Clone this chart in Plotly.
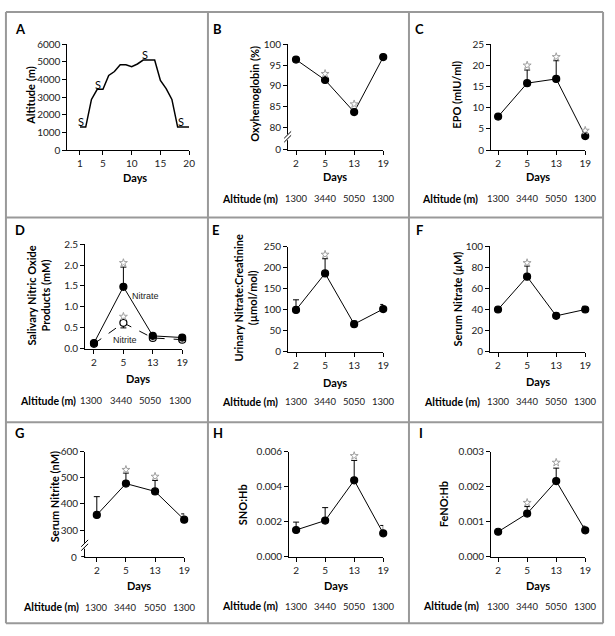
import plotly.graph_objects as go

W, H = 615, 636
FONT = "Lato"

days = ["2", "5", "13", "19"]
altitude_row = ["1300", "3440", "5050", "1300"]

# A: trek altitude profile
trek_day = list(range(1, 21))
trek_alt = [1300, 1300, 2870, 3440, 3440, 4230, 4450, 4830, 4830, 4730,
            4880, 5100, 5100, 5100, 3950, 3480, 2870, 1300, 1300, 1300]
sample_day = [1.2, 4.2, 12.4, 18.5]
sample_alt = [1620, 3730, 5390, 1620]

# B-I: mean values, upper error, asterisk heights (None = no asterisk)
oxyhb = [96.3, 91.4, 83.7, 96.9]
oxyhb_star = [None, 92.9, 85.6, None]

epo = [7.9, 15.8, 16.8, 3.3]
epo_err = [0.3, 3.1, 4.3, 0.5]
epo_star = [None, 20.0, 22.0, 4.6]

sal_nitrate = [0.14, 1.48, 0.31, 0.27]
sal_nitrate_err = [0.03, 0.47, 0.05, 0.06]
sal_nitrate_star = [None, 2.05, None, None]
sal_nitrite = [0.12, 0.62, 0.26, 0.22]
sal_nitrite_err = [0.02, 0.12, 0.06, 0.05]
sal_nitrite_star = [None, 0.77, None, None]

urine = [100, 187, 66, 102]
urine_err = [24, 35, 7, 11]
urine_star = [None, 232, None, None]

s_nitrate = [40, 71, 34, 40]
s_nitrate_err = [2, 10, 2.5, 3]
s_nitrate_star = [None, 84, None, None]

s_nitrite = [358, 478, 448, 340]
s_nitrite_err = [70, 40, 42, 22]
s_nitrite_star = [None, 531, 505, None]

sno = [0.00152, 0.00206, 0.00436, 0.00133]
sno_err = [0.00045, 0.00074, 0.00114, 0.00045]
sno_star = [None, None, 0.00576, None]

feno = [0.00071, 0.00123, 0.00216, 0.00075]
feno_err = [0.00003, 0.0002, 0.00037, 0.00012]
feno_star = [None, 0.00154, 0.00269, None]

idx = list(range(len(days)))


def px(p):
    return p / W


def py(p):
    return 1 - p / H


fig = go.Figure()
annotations = []
shapes = []

# panel geometry in pixels: left, right, top, bottom of plot area; letter position
panels = {
    "A": dict(n=1, l=68, r=191, t=38, b=146, lx=21, ly=22),
    "B": dict(n=2, l=291, r=387, t=38, b=146, lx=220, ly=22, x0=-0.27),
    "C": dict(n=3, l=496, r=591, t=38, b=146, lx=424, ly=22, x0=-0.24),
    "D": dict(n=4, l=86, r=184, t=242, b=349, lx=20, ly=228, x0=-0.30),
    "E": dict(n=5, l=291, r=387, t=245, b=352, lx=218, ly=228, x0=-0.27),
    "F": dict(n=6, l=495, r=591, t=244, b=352, lx=424, ly=228, x0=-0.27),
    "G": dict(n=7, l=86, r=186, t=454, b=561, lx=20, ly=435, x0=-0.40),
    "H": dict(n=8, l=292, r=387, t=454, b=561, lx=220, ly=435, x0=-0.24),
    "I": dict(n=9, l=496, r=591, t=454, b=561, lx=425, ly=435, x0=-0.24),
}

axis_style = dict(showline=True, linecolor="black", linewidth=1, ticks="outside",
                  ticklen=4, tickwidth=1, tickcolor="black", showgrid=False,
                  zeroline=False, tickfont=dict(family=FONT, size=10, color="#222"))


def ax_names(n):
    s = "" if n == 1 else str(n)
    return "x" + s, "y" + s, "xaxis" + s, "yaxis" + s


def note(x, y, text, size=11, color="black", xref="paper", yref="paper", **kw):
    d = dict(x=x, y=y, xref=xref, yref=yref, text=text, showarrow=False,
             xanchor="center", yanchor="middle",
             font=dict(family=kw.pop("family", FONT), size=size, color=color))
    d.update(kw)
    annotations.append(d)


def setup_axes(key, yaxis_extra, xaxis_extra=None):
    p = panels[key]
    xr, yr, xk, yk = ax_names(p["n"])
    xa = dict(axis_style, domain=[px(p["l"]), px(p["r"])], anchor=yr)
    if xaxis_extra is None:
        xa.update(range=[p["x0"], len(days) - 1], tickvals=idx, ticktext=days)
    else:
        xa.update(xaxis_extra)
    ya = dict(axis_style, domain=[py(p["b"]), py(p["t"])], anchor=xr)
    ya.update(yaxis_extra)
    fig.update_layout({xk: xa, yk: ya})


def add_series(key, y, err=None, down=False, filled=True, dash="solid"):
    p = panels[key]
    xr, yr, _, _ = ax_names(p["n"])
    eb = None
    if err is not None:
        zeros = [0] * len(err)
        eb = dict(type="data", symmetric=False, array=zeros if down else err,
                  arrayminus=err if down else zeros, color="black",
                  thickness=1, width=3)
    fig.add_trace(go.Scatter(
        x=idx, y=y, xaxis=xr, yaxis=yr, mode="lines+markers",
        line=dict(color="black", width=1, dash=dash),
        marker=dict(size=7, color="black" if filled else "white",
                    line=dict(color="black", width=1.2)),
        error_y=eb, cliponaxis=False, showlegend=False))


def add_stars(key, stars):
    p = panels[key]
    xr, yr, _, _ = ax_names(p["n"])
    fig.add_trace(go.Scatter(
        x=idx, y=stars, xaxis=xr, yaxis=yr, mode="markers",
        marker=dict(symbol="star-open", size=6, color="#a0a0a0", line=dict(width=1)),
        cliponaxis=False, showlegend=False))


def add_texts(key, ytitle, ytx, yty, days_x, days_y, alt_x=None, alt_y=None, alt_shift=0):
    p = panels[key]
    xr, yr, _, _ = ax_names(p["n"])
    note(px(p["lx"]), py(p["ly"]), "<b>%s</b>" % key, size=13)
    note(px(ytx), py(yty), "<b>%s</b>" % ytitle, textangle=-90)
    note(px(days_x), py(days_y), "<b>Days</b>")
    if alt_x is not None:
        note(px(alt_x), py(alt_y), "<b>Altitude (m)</b>", size=10.5)
        for i, a in zip(idx, altitude_row):
            note(i, py(alt_y), a, size=9.5, color="#222", xref=xr, xshift=alt_shift)


def add_break(key, brk):
    p = panels[key]
    x = p["l"]
    shapes.append(dict(type="rect", xref="paper", yref="paper", layer="above",
                       x0=px(x - 2), x1=px(x + 2), y0=py(brk + 3), y1=py(brk - 3),
                       fillcolor="white", line=dict(width=0)))
    for d in (-2, 2):
        shapes.append(dict(type="line", xref="paper", yref="paper", layer="above",
                           x0=px(x - 4), y0=py(brk + 3 + d), x1=px(x + 3), y1=py(brk - 4 + d),
                           line=dict(color="black", width=1)))


def add_bottom_zero(key):
    # "0" label and tick at the foot of a broken axis
    p = panels[key]
    shapes.append(dict(type="line", xref="paper", yref="paper", x0=px(p["l"] - 4),
                       x1=px(p["l"]), y0=py(p["b"]), y1=py(p["b"]),
                       line=dict(color="black", width=1)))
    note(px(p["l"] - 6), py(p["b"]), "0", size=10, color="#222", xanchor="right")


# --- A
setup_axes("A", dict(range=[0, 6000], dtick=1000),
           dict(range=[-1.2, 20], tickvals=[1, 5, 10, 15, 20]))
fig.add_trace(go.Scatter(x=trek_day, y=trek_alt, mode="lines", xaxis="x", yaxis="y",
                         line=dict(color="black", width=1.5), showlegend=False))
for d, a in zip(sample_day, sample_alt):
    note(d, a, "S", size=11, xref="x", yref="y")
add_texts("A", "Altitude (m)", 30, 90, 136, 174)

# --- B (broken axis: 0 drawn below 80)
b_zero = 80 - 23 / 4.25
setup_axes("B", dict(range=[b_zero - 0.01, 100], tickvals=[b_zero, 80, 85, 90, 95, 100],
                     ticktext=["0", "80", "85", "90", "95", "100"]))
add_series("B", oxyhb)
add_stars("B", oxyhb_star)
add_texts("B", "Oxyhemoglobin (%)", 257, 88, 338, 173, 252, 196)
add_break("B", 133)

# --- C
setup_axes("C", dict(range=[0, 25], dtick=5))
add_series("C", epo, epo_err)
add_stars("C", epo_star)
add_texts("C", "EPO (mIU/ml)", 461, 90, 543, 173, 454, 196)

# --- D
setup_axes("D", dict(range=[0, 2.5], dtick=0.5, tickformat=".1f"))
add_series("D", sal_nitrite, sal_nitrite_err, down=True, filled=False, dash="dash")
add_series("D", sal_nitrate, sal_nitrate_err)
add_stars("D", sal_nitrate_star)
add_stars("D", sal_nitrite_star)
note(1.75, 1.27, "Nitrate", size=9, color="#222", xref="x4", yref="y4", family="Liberation Sans")
note(1.05, 0.2, "Nitrite", size=9, color="#222", xref="x4", yref="y4", family="Liberation Sans")
add_texts("D", "Salivary Nitric Oxide<br>Products (mM)", 39, 295, 139, 379, 48, 402, -2)

# --- E
setup_axes("E", dict(range=[0, 250], dtick=50))
add_series("E", urine, urine_err)
add_stars("E", urine_star)
add_texts("E", "Urinary Nitrate:Creatinine<br>(µmol/mol)", 248, 297, 338, 383, 252, 403)

# --- F
setup_axes("F", dict(range=[0, 100], dtick=20))
add_series("F", s_nitrate, s_nitrate_err)
add_stars("F", s_nitrate_star)
add_texts("F", "Serum Nitrate (<i>µ</i>M)", 462, 298, 543, 382, 456, 403)

# --- G (broken axis: 0 drawn below 300)
g_zero = 300 - 27 / (80 / 300)
setup_axes("G", dict(range=[g_zero, 600], tickvals=[300, 400, 500, 600]))
add_series("G", s_nitrite, s_nitrite_err)
add_stars("G", s_nitrite_star)
add_texts("G", "Serum Nitrite (nM)", 55, 500, 140, 591, 51, 613)
add_break("G", 550)
add_bottom_zero("G")

# --- H
setup_axes("H", dict(range=[0, 0.006], dtick=0.002, tickformat=".3f"))
add_series("H", sno, sno_err)
add_stars("H", sno_star)
add_texts("H", "SNO:Hb", 245, 508, 339, 591, 252, 612)

# --- I
setup_axes("I", dict(range=[0, 0.003], dtick=0.001, tickformat=".3f"))
add_series("I", feno, feno_err)
add_stars("I", feno_star)
add_texts("I", "FeNO:Hb", 448, 508, 543, 591, 455, 612)

# panel frame
frame = dict(color="#999999", width=2)
for x in (6, 210, 413, 609):
    shapes.append(dict(type="line", xref="paper", yref="paper", x0=px(x), x1=px(x),
                       y0=py(5), y1=py(629), line=frame))
for y in (5, 215, 424, 629):
    shapes.append(dict(type="line", xref="paper", yref="paper", x0=px(6), x1=px(609),
                       y0=py(y), y1=py(y), line=frame))

fig.update_layout(width=W, height=H, margin=dict(l=0, r=0, t=0, b=0),
                  paper_bgcolor="white", plot_bgcolor="white",
                  annotations=annotations, shapes=shapes,
                  font=dict(family=FONT, color="black"))

# drop the browser's default page margin so the figure sits at the window corner
fig.write_html("out.html", config={"displayModeBar": False},
               post_script="document.body.style.margin='0';document.body.style.overflow='hidden';")
